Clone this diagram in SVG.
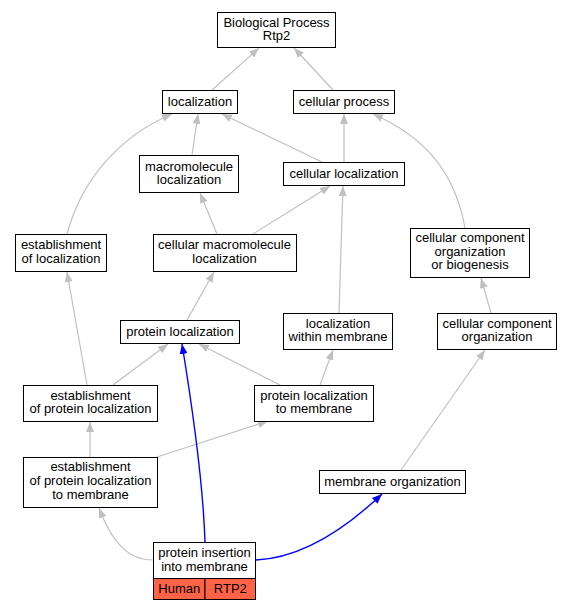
<svg xmlns="http://www.w3.org/2000/svg" width="571" height="611" viewBox="0 0 571 611">
<style>
  .box { fill: #ffffff; stroke: #000000; stroke-width: 1; }
  .lbl { font-family: "Liberation Sans", Arial, sans-serif; font-size: 13px; fill: #000000; text-anchor: middle; }
  .e { fill: none; stroke: #c0c0c0; stroke-width: 1.2; marker-end: url(#ag); }
  .b { fill: none; stroke: #0000ff; stroke-width: 1.4; marker-end: url(#ab); }
  .red { fill: #ff6347; stroke: #000000; stroke-width: 1; }
</style>
<defs>
  <marker id="ag" markerUnits="userSpaceOnUse" markerWidth="11" markerHeight="8" refX="10" refY="4" orient="auto" viewBox="0 0 11 8">
    <path d="M0,0 L10,4 L0,8 z" fill="#c0c0c0"/>
  </marker>
  <marker id="ab" markerUnits="userSpaceOnUse" markerWidth="11" markerHeight="8" refX="10" refY="4" orient="auto" viewBox="0 0 11 8">
    <path d="M0,0 L10,4 L0,8 z" fill="#0000ff"/>
  </marker>
</defs>
<rect width="571" height="611" fill="#ffffff"/>
<g id="connectors">
  <path class="e" d="M212,90 L259,48"/>
  <path class="e" d="M333,90 L294,48"/>
  <path class="e" d="M192,155 L198,114"/>
  <path class="e" d="M322,162 L222,114"/>
  <path class="e" d="M344,162 L344,114"/>
  <path class="e" d="M67,234 C80,185 115,138 172,114"/>
  <path class="e" d="M217,234 L200,193"/>
  <path class="e" d="M253,234 L330,186"/>
  <path class="e" d="M339,313 L343,186"/>
  <path class="e" d="M465,228 C455,172 425,137 373,114"/>
  <path class="e" d="M187,320 L214,272"/>
  <path class="e" d="M491,313 L481,278"/>
  <path class="e" d="M87,385 L67,272"/>
  <path class="e" d="M113,385 L168,344"/>
  <path class="e" d="M280,385 L199,344"/>
  <path class="e" d="M320,385 L333,350"/>
  <path class="e" d="M90,457 L90,422"/>
  <path class="e" d="M157,457 L268,421"/>
  <path class="e" d="M401,470 L485,350"/>
  <path class="e" d="M153,560 C125,560 110,537 99,508"/>
  <path class="b" d="M205,542 C203,480 192,405 182,344"/>
  <path class="b" d="M256,560 C300,558 342,532 382,494"/>
</g>
<g id="n_bp"><rect class="box" x="217.5" y="12.5" width="118" height="35"/>
  <text class="lbl" x="276.5" y="26.5">Biological Process</text><text class="lbl" x="276.5" y="40">Rtp2</text></g>
<g id="n_loc"><rect class="box" x="162.5" y="90.5" width="75" height="23"/>
  <text class="lbl" x="200" y="106">localization</text></g>
<g id="n_cp"><rect class="box" x="293.5" y="90.5" width="101" height="23"/>
  <text class="lbl" x="344" y="106">cellular process</text></g>
<g id="n_ml"><rect class="box" x="139.5" y="155.5" width="99" height="37"/>
  <text class="lbl" x="189" y="170.5">macromolecule</text><text class="lbl" x="189" y="184">localization</text></g>
<g id="n_cl"><rect class="box" x="283.5" y="162.5" width="121" height="23"/>
  <text class="lbl" x="344" y="178">cellular localization</text></g>
<g id="n_eol"><rect class="box" x="15.5" y="234.5" width="91" height="37"/>
  <text class="lbl" x="61" y="249">establishment</text><text class="lbl" x="61" y="262.5">of localization</text></g>
<g id="n_cml"><rect class="box" x="153.5" y="234.5" width="143" height="37"/>
  <text class="lbl" x="224.5" y="249">cellular macromolecule</text><text class="lbl" x="224.5" y="262.5">localization</text></g>
<g id="n_ccob"><rect class="box" x="410.5" y="228.5" width="119" height="49"/>
  <text class="lbl" x="470" y="242">cellular component</text><text class="lbl" x="470" y="255.5">organization</text><text class="lbl" x="470" y="269">or biogenesis</text></g>
<g id="n_pl"><rect class="box" x="120.5" y="320.5" width="119" height="23"/>
  <text class="lbl" x="180" y="335.5">protein localization</text></g>
<g id="n_lwm"><rect class="box" x="283.5" y="313.5" width="109" height="36"/>
  <text class="lbl" x="338" y="327.5">localization</text><text class="lbl" x="338" y="341">within membrane</text></g>
<g id="n_cco"><rect class="box" x="437.5" y="313.5" width="119" height="36"/>
  <text class="lbl" x="497" y="327.5">cellular component</text><text class="lbl" x="497" y="341">organization</text></g>
<g id="n_epl"><rect class="box" x="23.5" y="385.5" width="134" height="36"/>
  <text class="lbl" x="90.5" y="399.5">establishment</text><text class="lbl" x="90.5" y="413">of protein localization</text></g>
<g id="n_pltm"><rect class="box" x="254.5" y="385.5" width="119" height="36"/>
  <text class="lbl" x="314" y="399.5">protein localization</text><text class="lbl" x="314" y="413">to membrane</text></g>
<g id="n_epltm"><rect class="box" x="23.5" y="457.5" width="134" height="50"/>
  <text class="lbl" x="90.5" y="471">establishment</text><text class="lbl" x="90.5" y="485">of protein localization</text><text class="lbl" x="90.5" y="498.5">to membrane</text></g>
<g id="n_mo"><rect class="box" x="319.5" y="470.5" width="146" height="23"/>
  <text class="lbl" x="392.5" y="486">membrane organization</text></g>
<g id="n_pim">
  <rect class="box" x="153.5" y="542.5" width="102" height="36"/>
  <text class="lbl" x="204.5" y="557">protein insertion</text><text class="lbl" x="204.5" y="570.5">into membrane</text>
  <rect class="red" x="153.5" y="578.5" width="51.5" height="21"/>
  <rect class="red" x="205" y="578.5" width="50.5" height="21"/>
  <text class="lbl" x="179.3" y="592.5">Human</text><text class="lbl" x="230.3" y="592.5">RTP2</text>
</g>
</svg>
